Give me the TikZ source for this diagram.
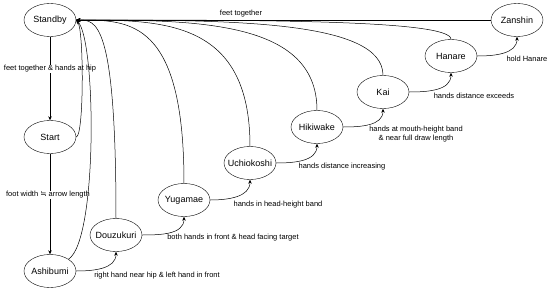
\documentclass[tikz,border=0pt]{standalone}
\usepackage{fontspec}
\setmainfont{Liberation Sans}
\newfontfamily\symfont{DejaVu Sans}
\usetikzlibrary{shapes.geometric, arrows.meta}

\begin{document}
\begin{tikzpicture}[
  x = 1pt, y = -1pt,
  state/.style = {draw, ellipse, minimum width=52pt, minimum height=33pt, inner xsep=-6pt, inner ysep=0pt, font=\fontsize{9}{10}\selectfont},
  lab/.style = {fill=white, inner sep=1pt, font=\fontsize{7.5}{9}\selectfont, align=center},
  arr/.style = {-{Stealth[length=4pt, width=3.5pt]}, line width=0.5pt}
]
\useasboundingbox (0,0) rectangle (550,292);

% States
\node (Sb) [state] at (50,20)  {Standby};
\node (St) [state] at (50,137) {Start};
\node (As) [state] at (50,271) {Ashibumi};
\node (Do) [state] at (116,235) {Douzukuri};
\node (Yu) [state] at (184,200) {Yugamae};
\node (Uc) [state] at (250,163) {Uchiokoshi};
\node (Hi) [state] at (317,127) {Hikiwake};
\node (Ka) [state] at (383,92)  {Kai};
\node (Ha) [state] at (451,56)  {Hanare};
\node (Za) [state] at (517,20)  {Zanshin};

% Forward transitions
\draw[arr] (Sb) -- (St);
\draw[arr] (St) -- (As);
\draw[arr] (As.east) to[out=0, in=-90] (Do.south);
\draw[arr] (Do.east) to[out=0, in=-90] (Yu.south);
\draw[arr] (Yu.east) to[out=0, in=-90] (Uc.south);
\draw[arr] (Uc.east) to[out=0, in=-90] (Hi.south);
\draw[arr] (Hi.east) to[out=0, in=-90] (Ka.south);
\draw[arr] (Ka.east) to[out=0, in=-90] (Ha.south);
\draw[arr] (Ha.east) to[out=0, in=-90] (Za.south);

% Transition labels
\node (L1) [lab] at (50,69)   {feet together \& hands at hip};
\node (L2) [lab] at (48,195)  {foot width {\symfont ≒} arrow length};
\node (L3) [lab] at (157,276) {right hand near hip \& left hand in front};
\node (L4) [lab] at (233,238) {both hands in front \& head facing target};
\node (L5) [lab] at (278,205) {hands in head-height band};
\node (L6) [lab] at (342,167) {hands distance increasing};
\node (L7) [lab] at (416,134) {hands at mouth-height band\\\& near full draw length};
\node (L8) [lab] at (474,96)  {hands distance exceeds};
\node (L9) [lab] at (527,59)  {hold Hanare};
\node (L0) [lab] at (241,14)  {feet together};

% Back to Standby
\draw[arr] (Za.west) -- (Sb.east);
\draw[arr] (St.east) .. controls (84,137) and (84,30) .. (Sb.east);
\draw[arr] (As.north east) .. controls (98,240) and (96,40) .. (Sb.east);
\draw[arr] (Do.north) .. controls (116,20) and (96,20) .. (Sb.east);
\draw[arr] (Yu.north) .. controls (184,20) and (130,20) .. (Sb.east);
\draw[arr] (Uc.north) .. controls (250,20) and (163,20) .. (Sb.east);
\draw[arr] (Hi.north) .. controls (317,20) and (196,20) .. (Sb.east);
\draw[arr] (Ka.north) .. controls (383,20) and (230,20) .. (Sb.east);
\draw[arr] (Ha.north) .. controls (451,20) and (263,20) .. (Sb.east);

\end{tikzpicture}
\end{document}
